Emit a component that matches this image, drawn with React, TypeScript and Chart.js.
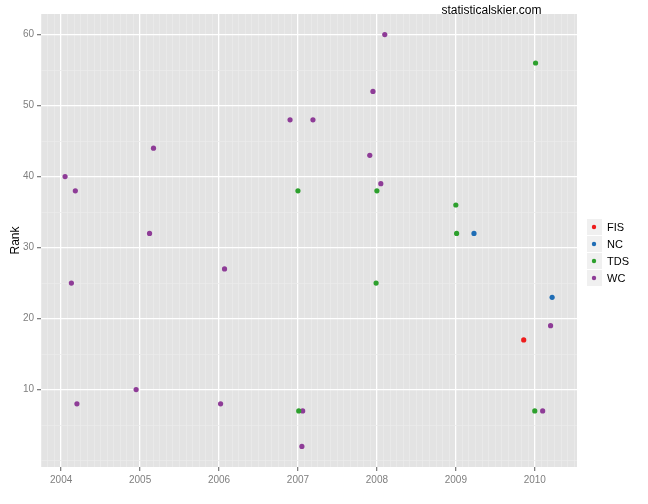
import React, { useEffect, useRef } from "react";
import { Chart, registerables } from "chart.js";

Chart.register(...registerables);

const seriesNames = ["FIS", "NC", "TDS", "WC"];
const seriesColors = ["#EE1C1C", "#1F6DB5", "#2DA02D", "#8E3C97"];

// decimal year, rank
const fisX = [2009.86];
const fisY = [17];

const ncX = [2009.23, 2010.22];
const ncY = [32, 23];

const tdsX = [2007.0, 2007.01, 2008.0, 2007.99, 2009.0, 2009.01, 2010.01, 2010.0];
const tdsY = [38, 7, 38, 25, 36, 32, 56, 7];

const wcX = [
  2004.05, 2004.18, 2004.13, 2004.2, 2004.95, 2005.12, 2005.17, 2006.02, 2006.07,
  2006.9, 2007.19, 2007.06, 2007.05, 2008.1, 2007.95, 2007.91, 2008.05, 2010.2, 2010.1,
];
const wcY = [40, 38, 25, 8, 10, 32, 44, 8, 27, 48, 48, 7, 2, 60, 52, 43, 39, 19, 7];

const xTickYears = [2004, 2005, 2006, 2007, 2008, 2009, 2010];
const yTickValues = [10, 20, 30, 40, 50, 60];

const FONT = "'Liberation Sans', Arial, Helvetica, sans-serif";

function toPoints(xs: number[], ys: number[]) {
  return xs.map((x, i) => ({ x, y: ys[i] }));
}

const isMajorX = (v: number) => xTickYears.some((y) => Math.abs(v - y) < 1e-6);
const isMajorY = (v: number) => yTickValues.some((y) => Math.abs(v - y) < 1e-6);

export default function App() {
  const ref = useRef<HTMLCanvasElement | null>(null);

  useEffect(() => {
    document.body.style.margin = "0";
    const canvas = ref.current!;
    const xs = [fisX, ncX, tdsX, wcX];
    const ys = [fisY, ncY, tdsY, wcY];

    const bgPlugin = {
      id: "panelBg",
      beforeDraw(chart: any) {
        const { ctx, chartArea: a } = chart;
        ctx.save();
        ctx.fillStyle = "#FFFFFF";
        ctx.fillRect(0, 0, chart.width, chart.height);
        ctx.fillStyle = "#E3E3E3";
        ctx.fillRect(a.left, a.top, a.right - a.left, a.bottom - a.top);
        ctx.restore();
      },
    };

    const decorPlugin = {
      id: "decor",
      afterDraw(chart: any) {
        const { ctx } = chart;
        ctx.save();
        // legend
        const boxX = 587;
        const boxW = 15;
        const boxH = 16;
        const top0 = 219;
        const step = 17;
        seriesNames.forEach((name, i) => {
          const y = top0 + i * step;
          ctx.fillStyle = "#F0F0F0";
          ctx.fillRect(boxX, y, boxW, boxH);
          ctx.fillStyle = seriesColors[i];
          ctx.beginPath();
          ctx.arc(boxX + boxW / 2 - 0.5, y + boxH / 2, 2.2, 0, Math.PI * 2);
          ctx.fill();
          ctx.fillStyle = "#000000";
          ctx.font = `11px ${FONT}`;
          ctx.textAlign = "left";
          ctx.textBaseline = "middle";
          ctx.fillText(name, 607, y + boxH / 2 + 0.5);
        });
        // annotation
        ctx.fillStyle = "#000000";
        ctx.font = `12px ${FONT}`;
        ctx.textAlign = "center";
        ctx.textBaseline = "alphabetic";
        ctx.fillText("statisticalskier.com", 491.5, 14);
        ctx.restore();
      },
    };

    const chart = new Chart(canvas, {
      type: "scatter",
      data: {
        datasets: seriesNames.map((name, i) => ({
          label: name,
          data: toPoints(xs[i], ys[i]),
          backgroundColor: seriesColors[i],
          borderColor: seriesColors[i],
          borderWidth: 0,
          pointRadius: 2.6,
          pointHoverRadius: 2.6,
        })),
      },
      options: {
        animation: false,
        responsive: false,
        layout: { padding: { left: 0, top: 14, right: 71, bottom: 0 } },
        plugins: {
          legend: { display: false },
          tooltip: { enabled: false },
        },
        scales: {
          x: {
            type: "linear",
            min: 2003.745,
            max: 2010.535,
            afterBuildTicks: (scale: any) => {
              const t: { value: number }[] = [];
              for (let y = 2003; y <= 2011; y++) {
                for (let m = 0; m < 12; m++) {
                  const v = y + m / 12;
                  if (v >= scale.min && v <= scale.max) t.push({ value: v });
                }
              }
              scale.ticks = t;
            },
            afterFit: (scale: any) => {
              scale.height = 37;
            },
            border: { display: false },
            grid: {
              color: (c: any) => (isMajorX(c.tick.value) ? "#FFFFFF" : "#EBEBEB"),
              lineWidth: (c: any) => (isMajorX(c.tick.value) ? 1.3 : 0.8),
              tickColor: (c: any) => (isMajorX(c.tick.value) ? "#7F7F7F" : "rgba(0,0,0,0)"),
              tickLength: 4,
              drawTicks: true,
            },
            ticks: {
              autoSkip: false,
              maxRotation: 0,
              padding: 3,
              color: "#7F7F7F",
              font: { family: FONT, size: 10 },
              callback: (v: any) => {
                const n = Number(v);
                return isMajorX(n) ? String(Math.round(n)) : "";
              },
            },
          },
          y: {
            type: "linear",
            min: -0.9,
            max: 62.9,
            afterBuildTicks: (scale: any) => {
              const t: { value: number }[] = [];
              for (let v = 0; v <= 60; v += 5) t.push({ value: v });
              scale.ticks = t;
            },
            afterFit: (scale: any) => {
              scale.width = 41;
            },
            border: { display: false },
            grid: {
              color: (c: any) => (isMajorY(c.tick.value) ? "#FFFFFF" : "#EBEBEB"),
              lineWidth: (c: any) => (isMajorY(c.tick.value) ? 1.3 : 0.8),
              tickColor: (c: any) => (isMajorY(c.tick.value) ? "#7F7F7F" : "rgba(0,0,0,0)"),
              tickLength: 4,
              drawTicks: true,
            },
            ticks: {
              autoSkip: false,
              padding: 3,
              color: "#7F7F7F",
              font: { family: FONT, size: 10 },
              callback: (v: any) => {
                const n = Number(v);
                return isMajorY(n) ? String(Math.round(n)) : "";
              },
            },
            title: {
              display: true,
              text: "Rank",
              color: "#000000",
              font: { family: FONT, size: 12 },
              padding: { top: 8, bottom: 0 },
            },
          },
        },
      },
      plugins: [bgPlugin, decorPlugin],
    } as any);

    return () => chart.destroy();
  }, []);

  return (
    <div style={{ position: "absolute", left: 0, top: 0, width: 648, height: 504 }}>
      <canvas ref={ref} width={648} height={504} style={{ width: 648, height: 504 }} />
    </div>
  );
}
